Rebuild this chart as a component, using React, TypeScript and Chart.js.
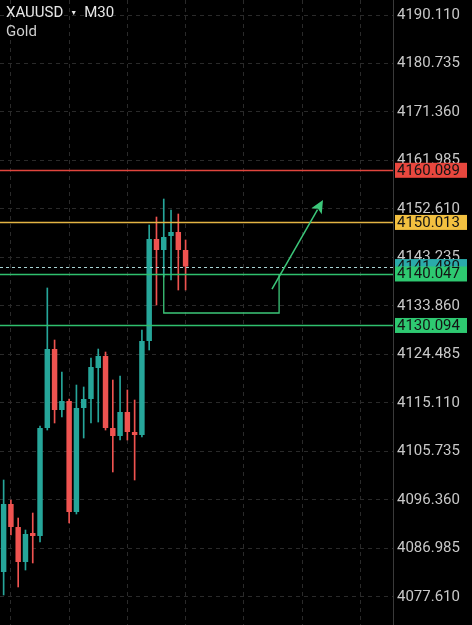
import React, { useEffect, useRef } from "react";
import { Chart, registerables } from "chart.js";

Chart.register(...registerables);

// ---- data ----
const SYMBOL = "XAUUSD";
const TIMEFRAME = "M30";
const INSTRUMENT = "Gold";

const OPEN = [
  4082.43, 4095.58, 4091.13, 4084.37, 4089.97, 4089.39, 4110.27, 4125.54, 4113.75, 4115.49,
  4094.03, 4114.14, 4115.88, 4121.87, 4124.19, 4110.27, 4108.73, 4113.37, 4109.5, 4108.92,
  4127.09, 4146.81, 4144.68, 4147.39, 4148.16, 4144.68,
];
const HIGH = [
  4100.22, 4096.35, 4092.87, 4090.55, 4093.84, 4110.66, 4137.34, 4127.28, 4121.1, 4115.87,
  4118.58, 4118.2, 4123.8, 4125.54, 4124.96, 4119.55, 4120.32, 4117.62, 4115.68, 4129.22,
  4149.51, 4151.06, 4154.54, 4152.41, 4151.64, 4146.62,
];
const LOW = [
  4077.99, 4089.59, 4079.54, 4082.82, 4084.18, 4088.24, 4109.88, 4111.24, 4112.4, 4091.91,
  4093.65, 4108.34, 4111.24, 4111.43, 4109.88, 4101.77, 4107.95, 4107.95, 4100.22, 4108.53,
  4125.35, 4134.05, 4139.46, 4138.88, 4136.95, 4136.95,
];
const CLOSE = [
  4095.58, 4091.13, 4084.37, 4089.78, 4089.39, 4110.27, 4125.54, 4113.75, 4115.49, 4094.03,
  4114.14, 4115.88, 4122.06, 4124.19, 4110.27, 4108.73, 4113.37, 4109.5, 4108.92, 4127.09,
  4146.81, 4144.68, 4147.19, 4148.16, 4144.68, 4141.48,
];

// 54 time slots on screen (26 filled with candles, the rest is right-hand space)
const SLOT_LABELS = Array.from({ length: 54 }, (_, i) => String(i));

const Y_TICKS = [
  4190.11, 4180.735, 4171.36, 4161.985, 4152.61, 4143.235, 4133.86, 4124.485, 4115.11,
  4105.735, 4096.36, 4086.985, 4077.61,
];
const Y_MIN = 4072.19;
const Y_MAX = 4193.01;

// horizontal levels: resistance, target, bid, support 1, support 2
const LEVEL_VALUES = [4160.089, 4150.013, 4141.48, 4140.047, 4130.094];

// drawn rectangle (slot index range, price range) and arrow (slot, price)
const RECT_X = [22, 37.85];
const RECT_Y = [4140.047, 4132.5];
const ARROW_X = [36.87, 43.88];
const ARROW_Y = [4137.14, 4154.35];

// ---- styles ----
const UP = "#26a69a";
const DOWN = "#ef5350";
const GRID = "#2a2a2a";
const LEVEL_LINE = ["#e0453d", "#e3b444", "#a9d4d4", "#2fbf6e", "#2fbf6e"];
const LEVEL_BOX = ["#e8473e", "#f2c040", "#2aabab", "#2ec971", "#2ec971"];
const LEVEL_DASH = [[], [], [3, 3], [], []];
const DRAW_GREEN = "#3cc77a";

const overlayPlugin = {
  id: "overlay",
  afterDatasetsDraw(chart: any) {
    const { ctx, chartArea, scales } = chart;
    const x = scales.x;
    const y = scales.y;
    ctx.save();
    // level lines
    LEVEL_VALUES.forEach((v, i) => {
      const py = Math.round(y.getPixelForValue(v)) + 0.5;
      ctx.beginPath();
      ctx.setLineDash(LEVEL_DASH[i]);
      ctx.strokeStyle = LEVEL_LINE[i];
      ctx.lineWidth = i === 2 ? 1 : 1.5;
      ctx.moveTo(chartArea.left, py);
      ctx.lineTo(chartArea.right, py);
      ctx.stroke();
    });
    ctx.setLineDash([]);
    // rectangle
    const rx1 = x.getPixelForValue(RECT_X[0]);
    const rx2 = x.getPixelForValue(RECT_X[1]);
    const ry1 = y.getPixelForValue(RECT_Y[0]);
    const ry2 = y.getPixelForValue(RECT_Y[1]);
    ctx.strokeStyle = DRAW_GREEN;
    ctx.lineWidth = 1.3;
    ctx.beginPath();
    ctx.moveTo(rx1, ry1);
    ctx.lineTo(rx1, ry2);
    ctx.lineTo(rx2, ry2);
    ctx.lineTo(rx2, ry1);
    ctx.stroke();
    // arrow
    const ax1 = x.getPixelForValue(ARROW_X[0]);
    const ay1 = y.getPixelForValue(ARROW_Y[0]);
    const ax2 = x.getPixelForValue(ARROW_X[1]);
    const ay2 = y.getPixelForValue(ARROW_Y[1]);
    const ang = Math.atan2(ay2 - ay1, ax2 - ax1);
    const headLen = 13;
    const headW = 6;
    const bx = ax2 - headLen * Math.cos(ang);
    const by = ay2 - headLen * Math.sin(ang);
    ctx.lineWidth = 1.5;
    ctx.beginPath();
    ctx.moveTo(ax1, ay1);
    ctx.lineTo(bx + 2 * Math.cos(ang), by + 2 * Math.sin(ang));
    ctx.stroke();
    ctx.fillStyle = DRAW_GREEN;
    ctx.beginPath();
    ctx.moveTo(ax2, ay2);
    ctx.lineTo(bx + headW * Math.sin(ang), by - headW * Math.cos(ang));
    ctx.lineTo(bx + 3 * Math.cos(ang), by + 3 * Math.sin(ang));
    ctx.lineTo(bx - headW * Math.sin(ang), by + headW * Math.cos(ang));
    ctx.closePath();
    ctx.fill();
    // price boxes
    ctx.font = "15px Roboto";
    ctx.textBaseline = "middle";
    ctx.textAlign = "left";
    LEVEL_VALUES.forEach((v, i) => {
      const py = y.getPixelForValue(v);
      ctx.fillStyle = LEVEL_BOX[i];
      ctx.fillRect(chartArea.right + 2, py - 7.5, 72, 15);
      ctx.fillStyle = "#141414";
      ctx.fillText(v.toFixed(3), chartArea.right + 4, py + 0.5);
    });
    ctx.restore();
  },
};

export default function App() {
  const ref = useRef<HTMLCanvasElement>(null);

  useEffect(() => {
    document.body.style.margin = "0";
    document.body.style.background = "#000";
    const colors = OPEN.map((o, i) => (CLOSE[i] >= o ? UP : DOWN));
    const chart = new Chart(ref.current as HTMLCanvasElement, {
      type: "bar",
      data: {
        labels: SLOT_LABELS,
        datasets: [
          {
            data: OPEN.map((o, i) => [Math.min(o, CLOSE[i]), Math.max(o, CLOSE[i])]) as any,
            backgroundColor: colors,
            barPercentage: 0.75,
            categoryPercentage: 1,
            grouped: false,
            borderWidth: 0,
            borderSkipped: false,
          } as any,
          {
            data: LOW.map((l, i) => [l, HIGH[i]]) as any,
            backgroundColor: colors,
            barThickness: 1,
            grouped: false,
            borderWidth: 0,
            borderSkipped: false,
          } as any,
        ],
      },
      options: {
        responsive: false,
        animation: false,
        devicePixelRatio: 1,
        layout: { padding: 0 },
        plugins: { legend: { display: false }, tooltip: { enabled: false } },
        scales: {
          x: {
            type: "category",
            offset: true,
            grid: {
              offset: false,
              drawTicks: false,
              color: (c: any) => (c.index % 8 === 1 ? GRID : "rgba(0,0,0,0)"),
            },
            border: { display: false, dash: [4, 4] },
            ticks: { display: false, autoSkip: false },
            afterFit: (s: any) => {
              s.height = 0;
              s.paddingLeft = 0;
              s.paddingRight = 0;
            },
          },
          y: {
            position: "right",
            min: Y_MIN,
            max: Y_MAX,
            afterBuildTicks: (s: any) => {
              s.ticks = Y_TICKS.map((v) => ({ value: v }));
            },
            ticks: {
              callback: (v: any) => Number(v).toFixed(3),
              color: "#c8c8c8",
              font: { family: "Roboto", size: 15 },
              padding: 4,
              autoSkip: false,
            },
            grid: { color: GRID, drawTicks: false },
            border: { display: true, color: "#3a3a3a", dash: [4, 4] },
            afterFit: (s: any) => {
              s.width = 79;
              s.paddingTop = 0;
              s.paddingBottom = 0;
            },
          },
        },
      } as any,
      plugins: [overlayPlugin],
    });
    return () => chart.destroy();
  }, []);

  return (
    <div style={{ position: "relative", width: 472, height: 625, background: "#000" }}>
      <canvas ref={ref} width={472} height={625} style={{ display: "block" }} />
      <div
        style={{
          position: "absolute",
          left: 6,
          top: 3,
          color: "#e6e6e6",
          fontFamily: "Roboto, sans-serif",
          fontSize: 15,
          lineHeight: "18px",
          pointerEvents: "none",
        }}
      >
        <div>
          {SYMBOL}
          <span style={{ fontSize: 7, margin: "0 7px 0 7px", verticalAlign: "2px" }}>▼</span>
          {TIMEFRAME}
        </div>
        <div style={{ color: "#cfcfcf" }}>{INSTRUMENT}</div>
      </div>
    </div>
  );
}
